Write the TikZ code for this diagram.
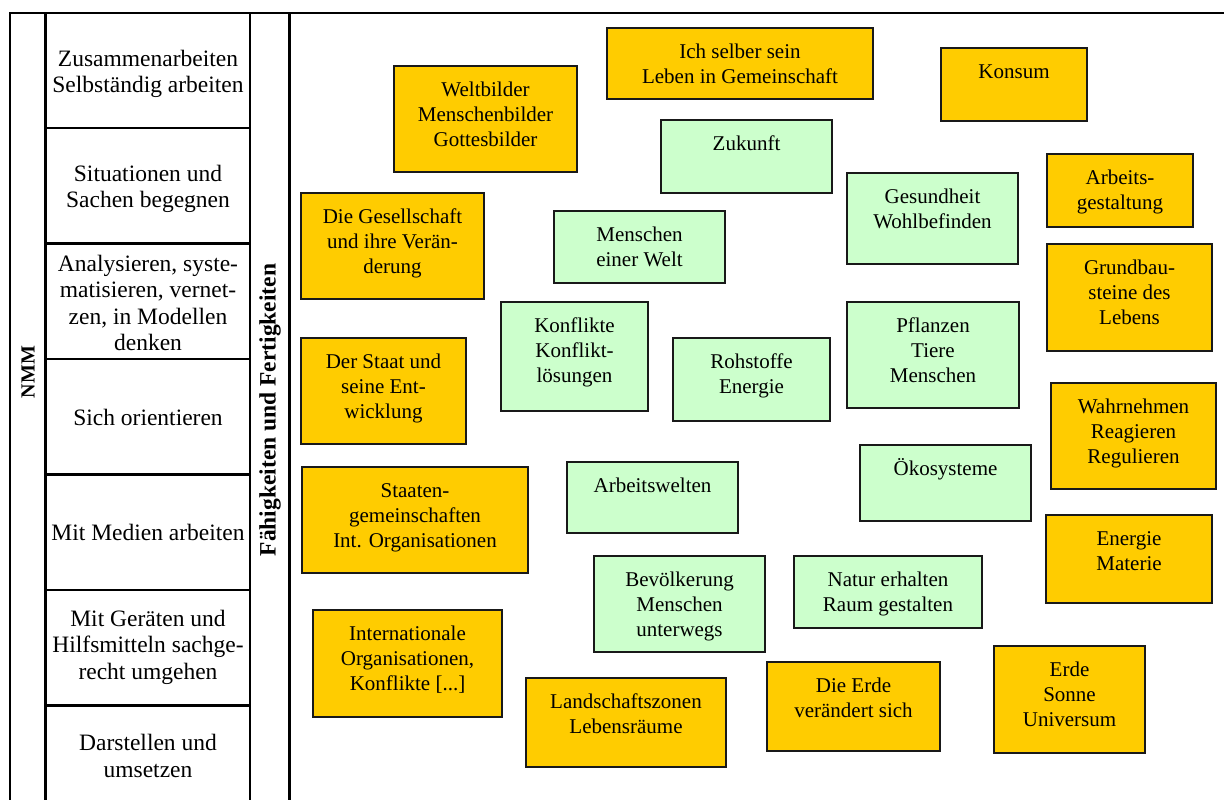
\documentclass[tikz,border=0pt]{standalone}
\usepackage{fontspec}
\setmainfont{Liberation Serif}
\definecolor{boxorange}{HTML}{FFCC00}
\definecolor{boxgreen}{HTML}{CCFFCC}
\tikzset{
  obox/.style={draw=black!90, line width=2pt, fill=boxorange, inner sep=0pt},
  gbox/.style={draw=black!90, line width=2pt, fill=boxgreen, inner sep=0pt},
  boxtext/.style={anchor=north, align=center, inner sep=0pt, font=\fontsize{21}{25}\selectfont},
  celltext/.style={align=center, inner sep=0pt, font=\fontsize{23.5}{26.5}\selectfont},
  vlabel/.style={rotate=90, inner sep=0pt, font=\fontsize{23.5}{27}\selectfont\bfseries},
  tablerule/.style={line width=2.5pt, black}
}
\newcommand\mybox[7]{%
  \node[#2, minimum width={#5-#3}, minimum height={#6-#4}] (#1) at ({(#3+#5)/2},{(#4+#6)/2}) {};
  \node[boxtext] (#1-t) at ({(#3+#5)/2},{#4+13}) {\strut #7};}
\begin{document}
\begin{tikzpicture}[x=1pt,y=-1pt]
\useasboundingbox (0,0) rectangle (1224,800);
% table frame
\draw[tablerule] (10,800) -- (10,13) -- (1224,13);
\foreach \x in {45.7,250,289.5} \draw[tablerule] (\x,13) -- (\x,800);
\foreach \y in {128,243.5,359,474.5,590,705.5} \draw[tablerule] (45.7,\y) -- (250,\y);
% cell texts
\node[celltext] (c1) at (148,74) {Zusammenarbeiten\\Selbständig arbeiten};
\node[celltext] (c2) at (148,189) {Situationen und\\Sachen begegnen};
\node[celltext] (c3) at (148,303) {Analysieren, syste-\\matisieren, vernet-\\zen, in Modellen\\denken};
\node[celltext] (c4) at (148,417) {Sich orientieren};
\node[celltext] (c5) at (148,532) {Mit Medien arbeiten};
\node[celltext] (c6) at (148,647) {Mit Geräten und\\Hilfsmitteln sachge-\\recht umgehen};
\node[celltext] (c7) at (148,756) {Darstellen und\\umsetzen};
\node[vlabel, font=\fontsize{20}{24}\selectfont\bfseries] (nmm) at (28,372) {NMM};
\node[vlabel] (ff) at (270,410) {Fähigkeiten und Fertigkeiten};
% orange boxes
\mybox{o1}{obox}{394}{66}{577}{172}{Weltbilder\\Menschenbilder\\Gottesbilder}
\mybox{o2}{obox}{607}{28}{873}{99}{Ich selber sein\\Leben in Gemeinschaft}
\mybox{o3}{obox}{941}{48}{1087}{121}{Konsum}
\mybox{o4}{obox}{301}{193}{484}{299}{Die Gesellschaft\\und ihre Verän-\\derung}
\mybox{o5}{obox}{1047}{154}{1193}{227}{Arbeits-\\gestaltung}
\mybox{o6}{obox}{1047}{244}{1212}{351}{Grundbau-\\steine des\\Lebens}
\mybox{o7}{obox}{301}{338}{466}{444}{Der Staat und\\seine Ent-\\wicklung}
\mybox{o8}{obox}{1051}{383}{1216}{489}{Wahrnehmen\\Reagieren\\Regulieren}
\mybox{o9}{obox}{302}{467}{528}{573}{Staaten-\\gemeinschaften\\Int. Organisationen}
\mybox{o10}{obox}{1046}{515}{1212}{603}{Energie\\Materie}
\mybox{o11}{obox}{313}{610}{502}{717}{Internationale\\Organisationen,\\Konflikte [...]}
\mybox{o12}{obox}{526}{678}{726}{767}{Landschaftszonen\\Lebensräume}
\mybox{o13}{obox}{767}{662}{940}{751}{Die Erde\\verändert sich}
\mybox{o14}{obox}{994}{646}{1145}{753}{Erde\\Sonne\\Universum}
% green boxes
\mybox{g1}{gbox}{661}{120}{832}{193}{Zukunft}
\mybox{g2}{gbox}{847}{173}{1018}{264}{Gesundheit\\Wohlbefinden}
\mybox{g3}{gbox}{554}{211}{725}{283}{Menschen\\einer Welt}
\mybox{g4}{gbox}{501}{302}{648}{411}{Konflikte\\Konflikt-\\lösungen}
\mybox{g5}{gbox}{673}{338}{830}{421}{Rohstoffe\\Energie}
\mybox{g6}{gbox}{847}{302}{1019}{408}{Pflanzen\\Tiere\\Menschen}
\mybox{g7}{gbox}{860}{445}{1031}{521}{Ökosysteme}
\mybox{g8}{gbox}{567}{462}{738}{533}{Arbeitswelten}
\mybox{g9}{gbox}{594}{556}{765}{652}{Bevölkerung\\Menschen\\unterwegs}
\mybox{g10}{gbox}{794}{556}{982}{628}{Natur erhalten\\Raum gestalten}
\end{tikzpicture}
\end{document}
